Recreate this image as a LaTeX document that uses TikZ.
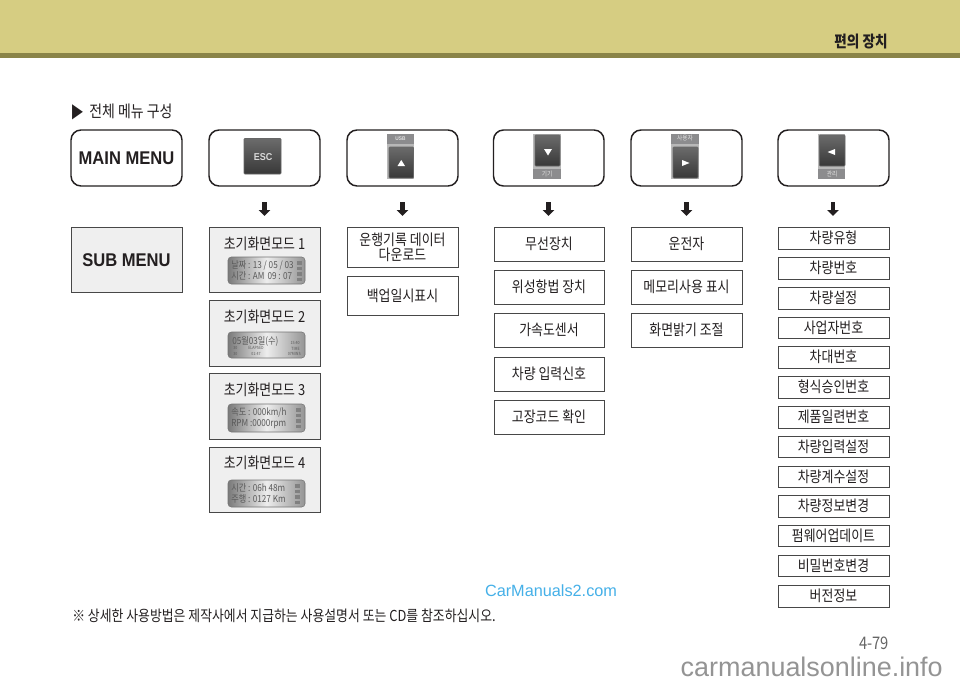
\documentclass[tikz,border=0pt]{standalone}
\usepackage{fontspec}
\usepackage{graphicx}
\setmainfont[FakeStretch=0.85]{Noto Sans CJK KR}
\newfontfamily\latinbold[FakeStretch=0.9]{Liberation Sans}
\newfontfamily\wmfont{Liberation Sans}
\newfontfamily\symfont{DejaVu Sans}
\usetikzlibrary{arrows.meta,shadings}
\definecolor{gold}{HTML}{D6CD82}
\definecolor{goldd}{HTML}{8A8448}
\definecolor{ink}{HTML}{231F20}
\definecolor{subfill}{HTML}{EFEFEF}
\definecolor{keystrip}{HTML}{8C8C8E}
\definecolor{lcdtxt}{HTML}{5A5A5A}
\definecolor{wmblue}{HTML}{45B0E8}
\tikzset{
 x=0.75pt,y=-0.75pt,
 mainbox/.style={draw=ink,line width=1.1pt,rounded corners=7.5pt,fill=white},
 subbox/.style={draw=black!72,line width=0.65pt,fill=white},
 greybox/.style={draw=black!72,line width=0.65pt,fill=subfill},
 lbl/.style={text=ink,font=\fontsize{11.4}{12.6}\selectfont,align=center,inner sep=0pt},
 downarrow/.style={draw=ink,line width=3.4pt,-{Triangle[width=8.5pt,length=4.5pt,inset=0pt]}},
 lcd/.style={rounded corners=2.5pt,left color=black!52,right color=black!42,middle color=black!7,draw=black!55,line width=0.4pt},
 lcdt/.style={text=lcdtxt,font=\fontsize{7.2}{8}\selectfont,inner sep=0pt,anchor=west},
 tiny/.style={text=lcdtxt,font=\fontsize{3.2}{3}\selectfont,inner sep=0pt},
 keypanel/.style={fill=black!28,draw=none},
 keystrip/.style={fill=keystrip,draw=none},
 keycap/.style={top color=black!58,bottom color=black!78,draw=black!60,line width=0.4pt,rounded corners=0.6pt},
 keytri/.style={fill=white,draw=none},
 keylab/.style={text=white!88!black,font=\fontsize{5}{5}\selectfont,inner sep=0pt},
}
% \bx{name}{x1}{y1}{x2}{y2}{style}{text}
\newcommand{\bx}[7]{\draw[#6] (#2,#3) rectangle (#4,#5);
 \node[lbl] (#1) at ({(#2+#4)/2},{(#3+#5)/2}) {#7};}
\newcommand{\rowbox}[4]{\bx{#1}{778}{#2}{889}{#3}{subbox}{#4}}
\newcommand{\lcddots}[2]{\foreach \k in {0,1,2,3}{\fill[black!50] (#1,{#2+\k*5.5}) rectangle ({#1+5},{#2+\k*5.5+3.6});}}
\begin{document}
\begin{tikzpicture}
\useasboundingbox (0,0) rectangle (960,685);
\fill[white] (0,0) rectangle (960,685);
\fill[gold] (0,0) rectangle (960,53);
\fill[goldd] (0,53) rectangle (960,58);
\node[text=ink,font=\fontsize{12}{13}\selectfont\bfseries,inner sep=0pt] (hdr) at (861,42) {편의 장치};
% title
\node[text=ink,font=\fontsize{8.5}{10}\symfont,inner sep=0pt] (tri) at (77.5,112) {\resizebox{8.2pt}{9.6pt}{▶}};
\node[text=ink,font=\fontsize{12.3}{13}\selectfont,inner sep=0pt,anchor=west] (title) at (89,111) {전체 메뉴 구성};
% main row
\draw[mainbox] (71,130) rectangle (182,186);
\node[text=ink,inner sep=0pt,font=\fontsize{13.8}{15}\latinbold\bfseries] (mm) at (126.5,158.5) {MAIN MENU};
\foreach \a/\b in {209/320,347/458,493.5/604,631/742,778/889}{\draw[mainbox] (\a,130) rectangle (\b,186);}
% ESC key
\draw[keycap] (244,138.5) rectangle (281,174);
\node[text=white!85!black,inner sep=0pt,font=\fontsize{7.5}{8}\latinbold\bfseries] (esc) at (263,157) {ESC};
% USB key
\fill[keypanel] (387,133.5) rectangle (414,179);
\fill[keystrip] (387,133.5) rectangle (414,144);
\node[keylab,font=\fontsize{4}{4}\latinbold\bfseries] (usb) at (400.5,138.5) {USB};
\draw[keycap] (389,147) rectangle (413.5,178);
\fill[keytri] (397.5,166) -- (405,166) -- (401.25,160) -- cycle;
% down key
\fill[keypanel] (533,133.5) rectangle (561,179);
\fill[keystrip] (533,168.5) rectangle (561,179);
\node[keylab] (gigi) at (547,174.5) {기기};
\draw[keycap] (535,135) rectangle (560,166);
\fill[keytri] (544,149) -- (552,149) -- (548,155.5) -- cycle;
% right key
\fill[keypanel] (671,133.5) rectangle (698.5,179);
\fill[keystrip] (671,133.5) rectangle (698.5,144);
\node[keylab] (user) at (685,138.5) {사용자};
\draw[keycap] (673,147) rectangle (698,178);
\fill[keytri] (682,160) -- (689.5,163) -- (682,166) -- cycle;
% left key
\fill[keypanel] (818,133.5) rectangle (845,179);
\fill[keystrip] (818,168.5) rectangle (845,179);
\node[keylab] (admin) at (832,174.5) {관리};
\draw[keycap] (819.5,135) rectangle (845,166);
\fill[keytri] (835,149) -- (835,155) -- (827.5,152) -- cycle;
% arrows
\foreach \n/\x in {1/264.5,2/402.5,3/548.5,4/686.5,5/833}{
 \coordinate (as\n) at (\x,202);
 \coordinate (ae\n) at (\x,216);
 \draw[downarrow] (as\n) -- (ae\n);
}
% sub menu
\draw[greybox] (71,227) rectangle (182,292);
\node[text=ink,inner sep=0pt,font=\fontsize{13.8}{15}\latinbold\bfseries] (sm) at (126.5,260) {SUB MENU};
% initial screens
\bx{i1}{209}{227}{320}{292.2}{greybox}{}
\node[lbl] (i1t) at (264.5,244) {초기화면모드 1};
\draw[lcd] (228,257) rectangle (305,284);
\node[lcdt] at (231,265) {날짜 : 13 / 05 / 03};
\node[lcdt] at (231,276) {시간 : AM\,\,09 : 07};
\lcddots{297}{261}
\bx{i2}{209}{300}{320}{366}{greybox}{}
\node[lbl] (i2t) at (264.5,317) {초기화면모드 2};
\draw[lcd] (228,332) rectangle (305,358);
\node[lcdt] at (232,341) {05월03일(수)};
\node[tiny,anchor=east] at (300,343) {15:40};
\node[tiny] at (256,348) {ELAPSED}; \node[tiny] at (256,353.5) {01:47};
\node[tiny,anchor=west] at (233,348) {30}; \node[tiny,anchor=west] at (233,353.5) {30};
\node[tiny,anchor=east] at (300,348.5) {TIME}; \node[tiny,anchor=east] at (301,353.5) {07MINS};
\bx{i3}{209}{373}{320}{439}{greybox}{}
\node[lbl] (i3t) at (264.5,390) {초기화면모드 3};
\draw[lcd] (228,404) rectangle (305,432);
\node[lcdt] at (231,412) {속도 : 000km/h};
\node[lcdt] at (231,424) {RPM :0000rpm};
\lcddots{296}{408}
\bx{i4}{209}{447}{320}{512.2}{greybox}{}
\node[lbl] (i4t) at (264.5,463) {초기화면모드 4};
\draw[lcd] (228,480) rectangle (305,507);
\node[lcdt] at (231,488) {시간 : 06h 48m};
\node[lcdt] at (231,499) {주행 : 0127 Km};
\lcddots{295}{484}
% col 3
\bx{c1}{347}{227}{458}{267}{subbox}{운행기록 데이터\\[-1.5pt]다운로드}
\bx{c2}{347}{276}{458}{315}{subbox}{백업일시표시}
% col 4
\bx{d1}{494}{227}{604}{261}{subbox}{무선장치}
\bx{d2}{494}{270}{604}{304}{subbox}{위성항법 장치}
\bx{d3}{494}{313}{604}{347}{subbox}{가속도센서}
\bx{d4}{494}{357}{604}{391}{subbox}{차량 입력신호}
\bx{d5}{494}{400}{604}{434}{subbox}{고장코드 확인}
% col 5
\bx{e1}{631}{227}{742}{261}{subbox}{운전자}
\bx{e2}{631}{270}{742}{304}{subbox}{메모리사용 표시}
\bx{e3}{631}{313}{742}{347}{subbox}{화면밝기 조절}
% col 6
\rowbox{f1}{227}{249}{차량유형}
\rowbox{f2}{257}{279}{차량번호}
\rowbox{f3}{287}{309}{차량설정}
\rowbox{f4}{317}{338}{사업자번호}
\rowbox{f5}{346}{368}{차대번호}
\rowbox{f6}{376}{398}{형식승인번호}
\rowbox{f7}{406}{428}{제품일련번호}
\rowbox{f8}{436}{457}{차량입력설정}
\rowbox{f9}{466}{487}{차량계수설정}
\rowbox{f10}{495}{517}{차량정보변경}
\rowbox{f11}{525}{546}{펌웨어업데이트}
\rowbox{f12}{555}{576}{비밀번호변경}
\rowbox{f13}{585}{607}{버전정보}
% footer
\node[text=ink,inner sep=0pt,anchor=west,font=\fontsize{11.35}{12}\selectfont] (note) at (72,616) {※ 상세한 사용방법은 제작사에서 지급하는 사용설명서 또는 CD를 참조하십시오.};
\node[text=wmblue,inner sep=0pt,font=\fontsize{12.2}{13}\wmfont] (wm1) at (551,591) {CarManuals2.com};
\node[text=black!60,inner sep=0pt,anchor=east,font=\fontsize{13}{14}\selectfont] (pg) at (889,643) {4-79};
\node[text=black!42,inner sep=0pt,anchor=east,font=\fontsize{20.2}{24}\wmfont] (wm2) at (943,667) {carmanualsonline.info};
\end{tikzpicture}
\end{document}
